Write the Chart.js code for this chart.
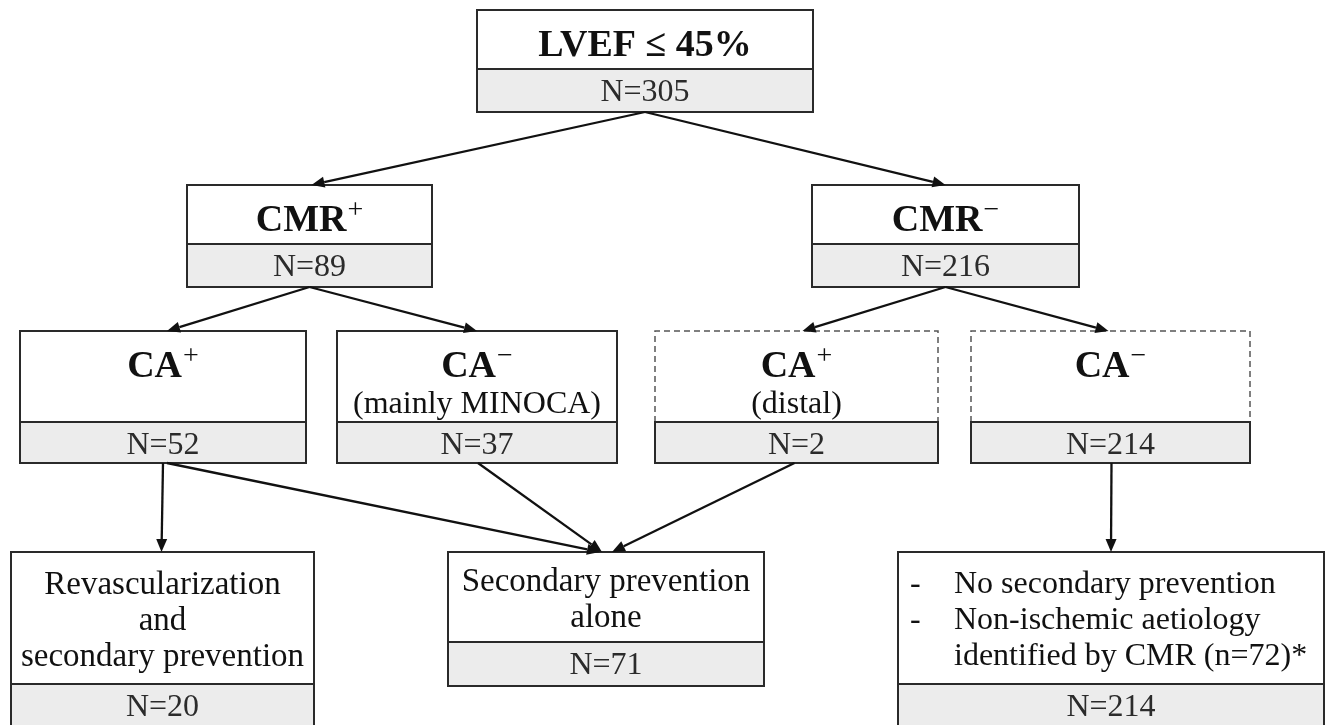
<!DOCTYPE html>
<html>
<head>
<meta charset="utf-8">
<script src="https://cdn.jsdelivr.net/npm/chart.js@4.4.1/dist/chart.umd.min.js"></script>
<style>
  html, body { margin: 0; padding: 0; background: #fff; }
  #wrap { width: 1333px; height: 725px; }
</style>
</head>
<body>
<div id="wrap"><canvas id="flow"></canvas></div>
<script>
// contenu des cases
const titles = ["LVEF ≤ 45%", "CMR", "CMR", "CA", "CA", "CA", "CA", "", "", ""];
const sups = ["", "+", "−", "+", "−", "+", "−", "", "", ""];
const subtitles = [[], [], [], [], ["(mainly MINOCA)"], ["(distal)"], [],
  ["Revascularization", "and", "secondary prevention"],
  ["Secondary prevention", "alone"],
  ["No secondary prevention", "Non-ischemic aetiology", "identified by CMR (n=72)*"]];
const bullets = [[], [], [], [], [], [], [], [], [], [true, true, false]];
const counts = [305, 89, 216, 52, 37, 2, 214, 20, 71, 214];
const dashed = [false, false, false, false, false, true, true, false, false, false];

// liens : [de, vers, décalage départ, décalage arrivée]
const links = [[0, 1, 0, 2], [0, 2, 0, 0], [1, 3, 0, 4], [1, 4, 0, 0], [2, 5, 0, 6], [2, 6, 0, -2],
  [3, 7, 0, -1], [3, 8, 4, -6], [4, 8, 1, -4], [5, 8, -2, 6], [6, 9, 1, 0]];

// géométrie des cases (unités des axes) : x0, x1, haut, séparation, bas
const layout = [
  [477, 813, 10, 69, 112],
  [187, 432, 185, 244, 287],
  [812, 1079, 185, 244, 287],
  [20, 306, 331, 422, 463],
  [337, 617, 331, 422, 463],
  [655, 938, 331, 422, 463],
  [971, 1250, 331, 422, 463],
  [11, 314, 552, 684, 728],
  [448, 764, 552, 642, 686],
  [898, 1324, 552, 684, 728]
];

const serif = '"Liberation Serif", "Times New Roman", serif';
const bodySize = [0, 0, 0, 0, 32, 32, 32, 33, 33, 32];

const flowPlugin = {
  id: 'flow',
  afterDatasetsDraw(chart) {
    const c = chart.ctx;
    const sx = chart.scales.x, sy = chart.scales.y;
    const X = v => sx.getPixelForValue(v);
    const Y = v => sy.getPixelForValue(v);
    c.save();

    // cases
    layout.forEach((b, i) => {
      const x0 = X(b[0]), x1 = X(b[1]), yt = Y(b[2]), yd = Y(b[3]), yb = Y(b[4]);
      c.fillStyle = '#ffffff';
      c.fillRect(x0, yt, x1 - x0, yd - yt);
      c.fillStyle = '#ececec';
      c.fillRect(x0, yd, x1 - x0, yb - yd);
      if (dashed[i]) {
        c.strokeStyle = '#555';
        c.lineWidth = 1.5;
        c.setLineDash([6, 4]);
        c.beginPath();
        c.moveTo(x0, yd); c.lineTo(x0, yt); c.lineTo(x1, yt); c.lineTo(x1, yd);
        c.stroke();
        c.setLineDash([]);
        c.strokeStyle = '#2a2a2a';
        c.lineWidth = 2;
        c.strokeRect(x0, yd, x1 - x0, yb - yd);
      } else {
        c.strokeStyle = '#2a2a2a';
        c.lineWidth = 2;
        c.strokeRect(x0, yt, x1 - x0, yb - yt);
        c.beginPath();
        c.moveTo(x0, yd); c.lineTo(x1, yd);
        c.stroke();
      }

      const cx = (x0 + x1) / 2;
      c.textBaseline = 'middle';
      c.fillStyle = '#111';

      // titre en gras + exposant
      if (titles[i]) {
        c.font = 'bold 38px ' + serif;
        const w1 = c.measureText(titles[i]).width;
        c.font = '28px ' + serif;
        const w2 = sups[i] ? c.measureText(sups[i]).width + 1 : 0;
        const left = cx - (w1 + w2) / 2;
        const ty = yt + 36;
        c.textAlign = 'left';
        c.font = 'bold 38px ' + serif;
        c.fillText(titles[i], left, ty);
        if (sups[i]) {
          c.font = '28px ' + serif;
          c.fillText(sups[i], left + w1 + 1, ty - 10);
        }
      }

      // texte courant
      const lines = subtitles[i];
      if (lines.length) {
        c.font = bodySize[i] + 'px ' + serif;
        let y0;
        if (titles[i]) {
          y0 = yt + 74;
        } else {
          y0 = (yt + yd) / 2 + 3 - (lines.length - 1) * 36 / 2;
        }
        lines.forEach((t, k) => {
          const ly = y0 + k * 36;
          if (bullets[i].length) {
            c.textAlign = 'left';
            if (bullets[i][k]) c.fillText('-', x0 + 12, ly);
            c.fillText(t, x0 + 56, ly);
          } else {
            c.textAlign = 'center';
            c.fillText(t, cx, ly);
          }
        });
      }

      // effectif
      c.font = '32px ' + serif;
      c.textAlign = 'center';
      c.fillStyle = '#2b2b2b';
      c.fillText('N=' + counts[i], cx, yd + 24);
    });

    // flèches
    c.strokeStyle = '#111';
    c.fillStyle = '#111';
    c.lineWidth = 2.3;
    links.forEach(([f, t, df, dt]) => {
      const a = layout[f], b = layout[t];
      const sxp = X((a[0] + a[1]) / 2 + df), syp = Y(a[4]);
      const ex = X((b[0] + b[1]) / 2 + dt), ey = Y(b[2]);
      const ang = Math.atan2(ey - syp, ex - sxp);
      const len = 13, hw = 5.5;
      const bx = ex - len * Math.cos(ang), by = ey - len * Math.sin(ang);
      c.beginPath();
      c.moveTo(sxp, syp);
      c.lineTo(bx, by);
      c.stroke();
      c.beginPath();
      c.moveTo(ex, ey);
      c.lineTo(bx + hw * Math.sin(ang), by - hw * Math.cos(ang));
      c.lineTo(bx - hw * Math.sin(ang), by + hw * Math.cos(ang));
      c.closePath();
      c.fill();
    });
    c.restore();
  }
};

// points (invisibles) au centre de chaque case
const centers = layout.map(b => ({ x: (b[0] + b[1]) / 2, y: (b[2] + b[4]) / 2 }));

const ctx = document.getElementById('flow').getContext('2d');
const flowChart = new Chart(ctx, {
  type: 'scatter',
  data: { datasets: [{ data: centers, pointRadius: 0 }] },
  options: {
    responsive: true,
    maintainAspectRatio: false,
    animation: false,
    layout: { padding: 0 },
    plugins: { legend: { display: false }, tooltip: { enabled: false } },
    scales: {
      x: { type: 'linear', min: 0, max: 1333, display: false },
      y: { min: 0, max: 725, reverse: true, display: false }
    }
  },
  plugins: [flowPlugin]
});
</script>
</body>
</html>
